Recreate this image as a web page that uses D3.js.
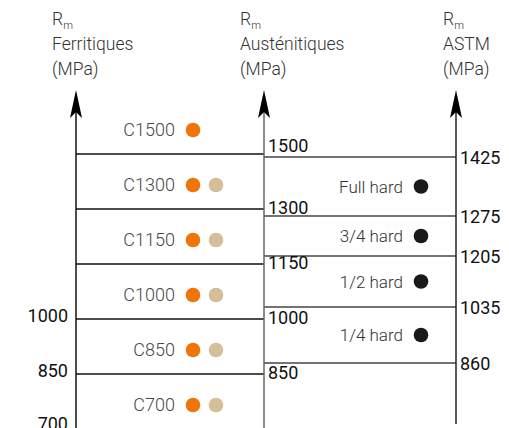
<!DOCTYPE html>
<html>
<head>
<meta charset="utf-8">
<script src="https://cdn.jsdelivr.net/npm/d3@7"></script>
<style>
  body { margin: 0; background: #fff; }
  text { font-family: Roboto, "Open Sans", sans-serif; }
  .head { font-size: 17.5px; font-weight: 300; fill: #333; }
  .tick { font-size: 18px; fill: #111; }
  .grade { font-size: 18px; font-weight: 300; fill: #484848; }
  .hard { font-size: 17px; font-weight: 300; fill: #333; }
</style>
</head>
<body>
<svg id="chart" width="509" height="428"></svg>
<script>
// ferritic / austenitic grades (EN 10088 cold worked)
var grades = ['C1500', 'C1300', 'C1150', 'C1000', 'C850', 'C700'];
var gradeValues = [1500, 1300, 1150, 1000, 850, 700];
var ferritic = [true, true, true, true, true, true];
var austenitic = [false, true, true, true, true, true];
var leftTicks = [1000, 850, 700];
var middleTicks = [1500, 1300, 1150, 1000, 850];

// ASTM tempers
var tempers = ['Full hard', '3/4 hard', '1/2 hard', '1/4 hard'];
var astmTicks = [1425, 1275, 1205, 1035, 860];

var headers = [
  ['Ferritiques', '(MPa)'],
  ['Austénitiques', '(MPa)'],
  ['ASTM', '(MPa)']
];

var orange = '#EF7508', beige = '#D3BF9A', black = '#1a1a1a';
var xLeft = 76, xMid = 264, xRight = 456;
var axisTop = 90, chartBottom = 428;

var svg = d3.select('#chart');

var y = d3.scalePoint().domain(gradeValues).range([154, 429]);
var yAstm = d3.scaleLinear().domain(astmTicks).range([157, 216, 256, 307, 363]);

/* headers */
function addHeader(lines, x) {
  var t = svg.append('text').attr('class', 'head').attr('x', x).attr('y', 25);
  t.append('tspan').text('R');
  t.append('tspan').attr('font-size', 11).attr('dy', 4).text('m');
  lines.forEach(function (l, i) {
    svg.append('text').attr('class', 'head')
      .attr('x', x).attr('y', 50 + i * 24.5).text(l);
  });
}
addHeader(headers[0], 52);
addHeader(headers[1], 240);
addHeader(headers[2], 443);

/* arrows + axes */
function addAxis(x, bottom, color) {
  svg.append('line')
    .attr('x1', x).attr('x2', x)
    .attr('y1', axisTop + 10).attr('y2', bottom)
    .attr('stroke', color).attr('stroke-width', 1.5);
  var p = d3.path();
  p.moveTo(x, axisTop);
  p.lineTo(x + 6, axisTop + 28);
  p.lineTo(x, axisTop + 22);
  p.lineTo(x - 6, axisTop + 28);
  p.closePath();
  svg.append('path').attr('d', p.toString()).attr('fill', '#000');
}

/* horizontal lines, left part */
gradeValues.slice(0, 5).forEach(function (v) {
  svg.append('line')
    .attr('x1', xLeft).attr('x2', xMid)
    .attr('y1', y(v)).attr('y2', y(v))
    .attr('stroke', '#111').attr('stroke-width', 1.5);
});

/* horizontal lines, right part */
astmTicks.forEach(function (v) {
  svg.append('line')
    .attr('x1', xMid).attr('x2', xRight)
    .attr('y1', yAstm(v)).attr('y2', yAstm(v))
    .attr('stroke', '#444').attr('stroke-width', 1.5);
});

addAxis(xLeft, chartBottom, '#111');
addAxis(xMid, chartBottom, '#666');
addAxis(xRight, 424, '#222');

/* tick labels */
leftTicks.forEach(function (v, i) {
  svg.append('text').attr('class', 'tick')
    .attr('x', 68).attr('y', y(v) - (i === 2 ? 5 : 3)).attr('dy', '0.36em')
    .attr('text-anchor', 'end').text(v);
});
middleTicks.forEach(function (v, i) {
  svg.append('text').attr('class', 'tick')
    .attr('x', 268).attr('y', y(v) - (i === 0 ? 8 : 1)).attr('dy', '0.36em')
    .text(v);
});
astmTicks.forEach(function (v) {
  svg.append('text').attr('class', 'tick')
    .attr('x', 460).attr('y', yAstm(v) + 0.5).attr('dy', '0.36em')
    .text(v);
});

/* grades on the left */
grades.forEach(function (g, i) {
  var cy = y(gradeValues[i]) - 24;
  svg.append('text').attr('class', 'grade')
    .attr('x', 175).attr('y', cy).attr('dy', '0.36em')
    .attr('text-anchor', 'end').text(g);
  if (ferritic[i]) {
    svg.append('circle').attr('cx', 193).attr('cy', cy).attr('r', 7.3).attr('fill', orange);
  }
  if (austenitic[i]) {
    svg.append('circle').attr('cx', 216).attr('cy', cy).attr('r', 7.3).attr('fill', beige);
  }
});

/* ASTM tempers on the right */
tempers.forEach(function (t, i) {
  var cy = (yAstm(astmTicks[i]) + yAstm(astmTicks[i + 1])) / 2;
  svg.append('text').attr('class', 'hard')
    .attr('x', 403).attr('y', cy).attr('dy', '0.36em')
    .attr('text-anchor', 'end').text(t);
  svg.append('circle').attr('cx', 421).attr('cy', cy).attr('r', 7.3).attr('fill', black);
});
</script>
</body>
</html>
